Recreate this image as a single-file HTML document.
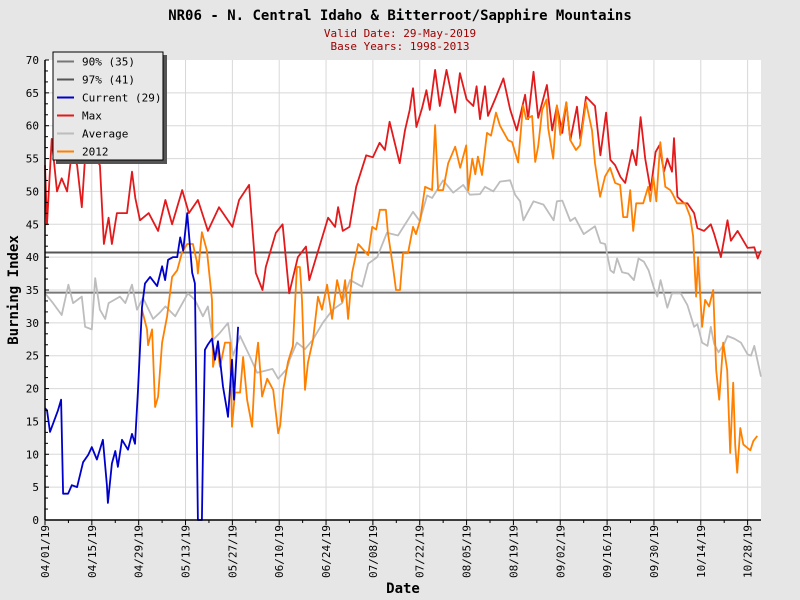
<!DOCTYPE html>
<html><head><meta charset="utf-8"><style>
body{margin:0;background:#e6e6e6;}
svg{display:block;font-family:"DejaVu Sans Mono","Liberation Mono",monospace;}
</style></head><body>
<svg id="chart" width="800" height="600">
<rect width="800" height="600" fill="#e6e6e6"/>
<text x="400" y="20" text-anchor="middle" font-size="14" font-weight="bold" fill="#000">NR06 - N. Central Idaho &amp; Bitterroot/Sapphire Mountains</text>
<text x="400" y="37" text-anchor="middle" font-size="11" fill="#a00000">Valid Date: 29-May-2019</text>
<text x="400" y="50" text-anchor="middle" font-size="11" fill="#a00000">Base Years: 1998-2013</text>
<rect x="45" y="60" width="716" height="460" fill="#fff"/>
<g id="grid"></g>
<g id="series"></g>
<g id="axes"></g>
<text x="18" y="290" text-anchor="middle" font-size="14" font-weight="bold" transform="rotate(-90 18 290)">Burning Index</text>
<text x="403" y="593" text-anchor="middle" font-size="14" font-weight="bold">Date</text>
<g>
<rect x="56" y="55" width="111" height="109" fill="#555"/>
<rect x="53" y="52" width="110" height="108" fill="#e8e8e8" stroke="#000" stroke-width="1"/>
<g id="legendItems"></g>
</g>
</svg>
<script>
const yTicks=[0,5,10,15,20,25,30,35,40,45,50,55,60,65,70];
const xTickLabels=["04/01/19","04/15/19","04/29/19","05/13/19","05/27/19","06/10/19","06/24/19","07/08/19","07/22/19","08/05/19","08/19/19","09/02/19","09/16/19","09/30/19","10/14/19","10/28/19"];
const pct90=34.6, pct97=40.7;
const maxDays=[0,0.6,2,3.6,5,6.6,8,9.6,11,12.6,15,16.4,17.6,19,20,21.5,24.5,26,27,28.4,31,33.8,36,38,41,43,45.7,48.7,52,56,58,61,63,65,66,69,71,73,75.6,78,79,82,84.6,86.7,87.6,89,91,93,96,98,100,101.6,103,106,107.6,109,110,111,112.7,114,115,116.6,118,120,122.6,124,126,128,129,130,131.5,132.4,134.5,137,139,141,143.5,144.4,146,147.4,150,151.6,153,154.6,155.8,157,159,160,161.7,164.4,166,167.7,169,170.4,172,173.4,175.5,176.7,178,179.4,181,182.5,183.6,185,186,187.4,188,189,191,192,194,195,197,199,200,202,204,205,207,210,212,213,214];
const maxVals=[54,45,58,50,52,50,56,54,47.6,60,55,54,42,46,42,46.7,46.7,53,49,45.6,46.7,44,48.7,45,50.2,46.7,48.7,44,47.6,44.6,48.7,51,37.6,35,38.5,43.7,45,34.5,40,41.6,36.5,41.6,46,44.6,47.6,44,44.6,50.7,55.5,55.2,57.4,56.3,60.6,54.3,59.3,62.4,65.7,59.8,62.7,65.4,62.4,68.5,63,68.5,62,68,64,63,66,61,66,61.5,64,67.2,62.5,59.3,64.7,61,68.2,61.2,66.2,59.3,63,58.9,63.5,57.8,62.9,58,64.4,63,55.5,62,54.8,54,52.2,51.3,56.3,54,61.3,55,50.2,56,57,53,55,53,58.1,49.2,48.2,48.2,46.7,44.4,44,45,43.5,40,45.6,42.5,44,41.4,41.5,39.8,41];
const avgDays=[0,2.4,5,7,8.4,11,12,14,15,16.4,18,19,22.4,24,26,27.5,29.3,32.3,34.4,36,38.9,42.7,44.8,47.2,48.7,50.2,52.3,54.7,56.2,58.3,61.3,63.4,66.4,68,69.7,72.3,73.2,75.3,77.7,80,83,86,88.8,91.2,94.8,96.6,99.3,102.2,105.5,110,112,114.2,115.7,119,122,125,127,130,131.5,134,136,139,140.5,142,143,146,149,152,153,154.6,157,158.4,161,164.4,166,167.4,169,170,171,172.5,174.3,176,177.4,179,180.4,182,183,184,186,187.4,190,192,194,195,196.4,198,199,200,201.3,203,204,206,208,210,211,212,214];
const avgVals=[34.5,33,31.2,35.8,33,34,29.4,29,36.8,32,30.6,33,34,33,35.8,32,33.8,30.6,31.6,32.5,31,34.5,33.5,31,32.5,27.4,28.5,30,25,28,24.8,22.4,22.8,23,21.5,23,24.5,27,26,27.4,30,32,33,36.5,35.5,39,40,43.7,43.3,46.9,45.5,49.4,49,51.7,49.8,51,49.5,49.6,50.7,50,51.5,51.7,49.5,48.5,45.6,48.5,48,45.6,48.5,48.6,45.5,46,43.5,44.7,42.2,42,38,37.6,39.8,37.7,37.5,36.5,39.8,39.3,38,35.3,34,36.5,32.3,34.5,34.5,32.7,29.4,29.8,27,26.5,29.4,26.8,25.5,26.8,28,27.6,27,25.2,25,26.5,21.8];
const curDays=[0,0.6,1.5,3.9,4.8,5.4,6.9,8,9.6,11.4,12.9,14,15.5,17.3,18.5,18.8,20,21,21.8,23,24.8,26,26.9,27.8,29,29.9,31.4,33.5,35,35.9,36.8,38.3,39.5,40.4,41.3,42.5,44,44.8,45.7,46.9,47.2,47.8,48.7,49.9,50.8,51.7,53.2,54.4,54.7,55.9,56.5,57.7];
const curVals=[17,16.7,13.4,16.7,18.3,4,4,5.3,5,8.8,9.9,11.1,9.2,12.2,5.3,2.6,8.6,10.5,8.1,12.2,10.7,13.1,11.6,19.8,32.4,36,37,35.6,38.6,36.5,39.6,40,40,43,41,46.7,37.6,36,0,0,9.9,25.9,26.7,27.6,24.4,27.2,20.3,16.7,15.7,24.4,18.3,29.4];
const y12Days=[29,30.5,30.8,32,32.9,33.8,35,36.5,38,39.5,41,42.5,44.2,45.4,45.7,46.9,48.4,49.9,50.2,51.4,52.3,53.8,55.3,55.9,56.8,58.3,59.2,60.4,61.9,62.8,63.7,64.9,66.4,68.2,69.7,70.3,71.2,72.6,74.1,75.3,76.2,76.8,77.7,78.6,80.1,81.6,82.8,84.3,85.8,87.3,88.8,89.7,90.6,91.8,93.6,96.6,97.8,99,100.1,101.9,102.5,104,104.9,106.1,107,108.5,110,110.9,112.1,113.6,115.7,116.6,117.5,119,120.5,122.6,124.1,125.9,126.5,127.7,128.6,129.4,130.6,132.1,133.3,134.8,136,138.4,139.6,141.4,142.9,143.8,145.6,146.5,147.4,148.6,149.9,150.4,151.9,153,154,155.8,157,158.7,159.9,161.7,163.5,164.4,165.9,167.4,168.9,170.4,171.9,172.8,174,174.9,175.8,176.7,178.8,180.3,180.9,181.8,182.7,183.9,185.4,186.9,187.7,188.9,191.3,192.8,193.7,194.6,195.2,195.8,196.4,197.3,198.5,199.7,200.6,201.5,202.7,203.9,204.8,205.7,206.3,206.9,207.8,208.7,210.8,211.7,212.9];
const y12Vals=[32,29,26.6,29,17.2,18.8,27,31,37,38,40.8,42,42,39.3,37.5,43.8,41,33.5,23.3,26.5,23.3,27,27,14.2,19.4,19.4,24.8,18.3,14.2,23.3,27,18.8,21.5,19.8,13.2,14.4,19.8,24,26.5,38.5,38.5,33.5,19.8,24,27.4,34,32,35.8,30.6,36.5,33.2,36.5,30.6,37.6,42,40.3,44.6,44.2,47.2,47.2,43.7,38.5,35,35,40.6,40.6,44.6,43.5,45.6,50.7,50.2,60.1,50.2,50.2,54.3,56.8,53.6,57,50.2,55,52.6,55.3,52.5,58.9,58.5,62,60,57.8,57.5,54.4,63.1,61,61.5,54.5,56.9,62.4,64,59.6,55,63.1,58.6,63.6,57.8,56.3,57,63.6,59.3,54.3,49.2,52.3,53.6,51.3,51,46.1,46.1,50.2,44,48.2,48.2,50.7,48.5,52.2,48.5,57.5,50.7,50.2,49.5,48.2,48.2,46.2,43.2,34,40,34.5,29.4,33.5,32.5,35,22.8,18.3,27,22.8,10.2,20.9,11.4,7.2,14,11.5,10.6,12,12.8];

const NS="http://www.w3.org/2000/svg";
const X0=45,X1=761,Y0=520,Y1=60,DAYS=214,YMAX=70;
function xs(d){return X0+d*(X1-X0)/DAYS;}
function ys(v){return Y0-v*(Y0-Y1)/YMAX;}
function mk(tag,attrs,parent){const e=document.createElementNS(NS,tag);for(const k in attrs)e.setAttribute(k,attrs[k]);parent.appendChild(e);return e;}
const grid=document.getElementById('grid'),axes=document.getElementById('axes'),series=document.getElementById('series');
yTicks.forEach((t,i)=>{
  const y=ys(t);
  if(t>0&&t<YMAX){const g=mk('line',{x1:X0,x2:X1,y1:y,y2:y,stroke:'#d8d8d8','stroke-width':1},grid);
  
  }
  const tl=mk('text',{x:39,y:y+4,'text-anchor':'end','font-size':11,fill:'#000'},axes);
  tl.textContent=t;
  
  
  mk('line',{x1:X0,x2:X0+4,y1:y,y2:y,stroke:'#000'},axes);
  if(i<yTicks.length-1){for(let k=1;k<3;k++){const yy=ys(t+k*5/3);mk('line',{x1:X0,x2:X0+3,y1:yy,y2:yy,stroke:'#000'},axes);}}
});
xTickLabels.forEach((lab,i)=>{
  const d=i*14,x=xs(d);
  if(i>0){const g=mk('line',{x1:x,x2:x,y1:Y1,y2:Y0,stroke:'#d8d8d8','stroke-width':1},grid);
  
  }
  mk('line',{x1:x,x2:x,y1:Y0,y2:Y0+5,stroke:'#000'},axes);
  const mx=xs(d+7); if(d+7<=DAYS) mk('line',{x1:mx,x2:mx,y1:Y0,y2:Y0+3,stroke:'#000'},axes);
  const tl=mk('text',{x:0,y:0,'text-anchor':'end','font-size':11,transform:`translate(${x+4},${Y0+5}) rotate(-90)`},axes);
  tl.textContent=lab;
  
  
});
mk('line',{x1:X0,x2:X0,y1:Y1,y2:Y0,stroke:'#000','stroke-width':1.5},axes);
mk('line',{x1:X0,x2:X1,y1:Y0,y2:Y0,stroke:'#000','stroke-width':1.5},axes);
const h97=mk('line',{x1:X0,x2:X1,y1:ys(pct97),y2:ys(pct97),stroke:'#555','stroke-width':2},series);


const h90=mk('line',{x1:X0,x2:X1,y1:ys(pct90),y2:ys(pct90),stroke:'#777','stroke-width':2},series);


function line(days,vals,color,name){
  const pts=days.map((d,i)=>xs(d).toFixed(1)+','+ys(vals[i]).toFixed(1)).join(' ');
  const p=mk('polyline',{points:pts,fill:'none',stroke:color,'stroke-width':1.8,'stroke-linejoin':'round'},series);
  
  
}
line(avgDays,avgVals,'#bdbdbd','average-line');
line(maxDays,maxVals,'#e31a1c','max-line');
line(y12Days,y12Vals,'#ff8000','year-2012-line');
line(curDays,curVals,'#0000cc','current-line');
const legNames=["90% (35)","97% (41)","Current (29)","Max","Average","2012"];
const legColors=["#777","#555","#0000cc","#e31a1c","#bdbdbd","#ff8000"];
const li=document.getElementById('legendItems');
legNames.forEach((n,i)=>{
  const y=61.5+i*18;
  const l=mk('line',{x1:57,x2:74,y1:y,y2:y,stroke:legColors[i],'stroke-width':2},li);
  
  
  const t=mk('text',{x:82,y:y+4,'font-size':11,fill:'#000'},li);
  t.textContent=n;
  
  
});
</script>
</body></html>
